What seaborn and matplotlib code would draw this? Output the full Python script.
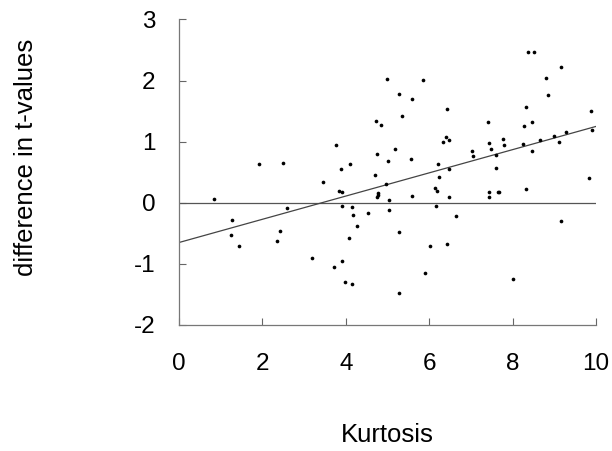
import numpy as np
import pandas as pd
import matplotlib
matplotlib.use("Agg")
import matplotlib.pyplot as plt
import seaborn as sns

# punti: curtosi vs differenza nei t-values
kurtosis = [0.84, 1.26, 1.25, 1.43, 1.93, 2.49, 2.58, 2.41, 2.36, 3.20,
            3.46, 3.77, 3.89, 3.84, 3.92, 3.90, 4.09, 4.16, 4.18, 4.27,
            4.08, 3.71, 3.90, 3.97, 4.14, 4.54, 4.71, 4.74, 4.72, 4.84,
            4.99, 5.02, 4.96, 4.77, 4.78, 4.74, 5.03, 5.04, 5.27, 5.58,
            5.86, 5.35, 5.17, 5.56, 5.58, 5.27, 5.28, 5.90, 6.01, 6.42,
            6.64, 6.16, 6.15, 6.19, 6.47, 6.23, 6.21, 6.47, 6.32, 6.40,
            6.48, 6.42, 7.03, 7.06, 7.41, 7.44, 7.49, 7.61, 7.60, 7.44,
            7.44, 7.64, 7.68, 7.77, 7.80, 8.01, 8.31, 8.28, 8.25, 8.46,
            8.46, 8.31, 8.66, 8.79, 8.85, 9.15, 8.99, 9.12, 9.29, 9.15,
            9.89, 9.91, 9.84, 8.37, 8.51]
t_diff = [0.06, -0.28, -0.52, -0.70, 0.64, 0.65, -0.09, -0.46, -0.62, -0.90,
          0.34, 0.95, 0.55, 0.20, 0.17, -0.05, 0.63, -0.07, -0.20, -0.38,
          -0.57, -1.05, -0.95, -1.30, -1.33, -0.17, 0.45, 0.80, 1.34, 1.28,
          2.03, 0.69, 0.30, 0.16, 0.13, 0.09, 0.04, -0.12, 1.78, 1.70,
          2.01, 1.42, 0.88, 0.71, 0.11, -0.47, -1.48, -1.15, -0.70, -0.68,
          -0.22, -0.05, 0.24, 0.20, 0.09, 0.42, 0.64, 0.55, 0.99, 1.08,
          1.02, 1.54, 0.84, 0.76, 1.32, 0.98, 0.88, 0.57, 0.79, 0.18,
          0.09, 0.18, 0.18, 1.04, 0.94, -1.25, 1.56, 1.25, 0.96, 1.32,
          0.85, 0.23, 1.02, 2.04, 1.77, 2.23, 1.09, 1.00, 1.16, -0.30,
          1.51, 1.19, 0.41, 2.46, 2.46]

# retta di regressione
fit_intercept = -0.65
fit_slope = 0.19
x_range = [0, 10]

data = pd.DataFrame({'kurtosis': kurtosis, 't_diff': t_diff})
fit = pd.DataFrame({'kurtosis': x_range,
                    't_diff': [fit_intercept + fit_slope * x for x in x_range]})

sns.set_style('white')
plt.rcParams['font.family'] = ['Liberation Sans', 'DejaVu Sans']
plt.rcParams['text.color'] = 'black'
plt.rcParams['axes.labelcolor'] = 'black'
plt.rcParams['xtick.labelcolor'] = 'black'
plt.rcParams['ytick.labelcolor'] = 'black'

fig = plt.figure(figsize=(6.12, 4.51), dpi=100)
ax = fig.add_axes([0.2925, 0.2794, 0.6814, 0.6774])

ax.axhline(0, color='#555555', lw=0.9, zorder=1)
sns.lineplot(x='kurtosis', y='t_diff', data=fit, color='#444444', lw=0.9, ax=ax, zorder=2)
sns.scatterplot(x='kurtosis', y='t_diff', data=data, color='black', s=7,
                linewidth=0, ax=ax, zorder=3)

ax.set_xlim(0, 10)
ax.set_ylim(-2, 3)
ax.set_xticks([0, 2, 4, 6, 8, 10])
ax.set_yticks([-2, -1, 0, 1, 2, 3])
ax.set_xticklabels(['0', '2', '4', '6', '8', '10'])
ax.set_yticklabels(['-2', '-1', '0', '1', '2', '3'])
ax.tick_params(direction='in', length=5, width=0.8, color='#666666',
               labelsize=17.5, labelcolor='black', left=True, bottom=True)
ax.tick_params(axis='x', pad=20)
ax.tick_params(axis='y', pad=17)

sns.despine(ax=ax)
for side in ['left', 'bottom']:
    ax.spines[side].set_color('#777777')
    ax.spines[side].set_linewidth(0.9)

ax.set_xlabel('Kurtosis', fontsize=18.5, color='black')
ax.set_ylabel('difference in t-values', fontsize=18.5, color='black')
ax.xaxis.set_label_coords(0.5, -0.321)
ax.yaxis.set_label_coords(-0.337, 0.548)

fig.savefig('out.png', dpi=100)
